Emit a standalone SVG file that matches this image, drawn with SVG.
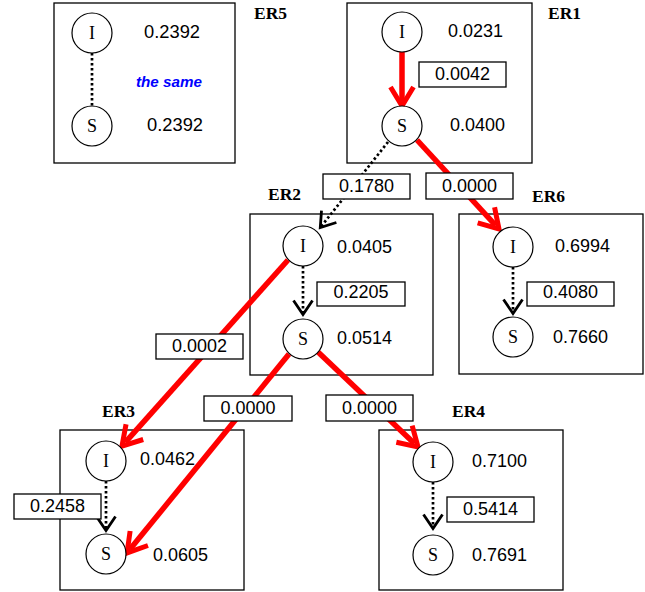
<svg xmlns="http://www.w3.org/2000/svg" width="645" height="592" viewBox="0 0 645 592">
<defs>
<style>
.box{fill:#fff;stroke:#000;stroke-width:1.3}
.er{font-family:"Liberation Serif","Times New Roman",serif;font-weight:bold;font-size:17px;fill:#000}
.nd{fill:#fff;stroke:#000;stroke-width:1.2}
.lt{font-family:"Liberation Serif","Times New Roman",serif;font-size:18px;text-anchor:middle;fill:#000}
.num{font-family:"Liberation Sans",Arial,sans-serif;font-size:17.5px;fill:#000}
.lbl{fill:#fff;stroke:#000;stroke-width:1.3}
.lnum{font-family:"Liberation Sans",Arial,sans-serif;font-size:17.5px;text-anchor:middle;fill:#000}
.red{fill:none;stroke:#f00;stroke-width:5.5;marker-end:url(#ar)}
.dot{fill:none;stroke:#000;stroke-width:2.7;stroke-dasharray:2.5 2.5}
.dota{marker-end:url(#ab)}
</style>
<marker id="ar" markerUnits="userSpaceOnUse" orient="auto" overflow="visible" refX="0" refY="0" markerWidth="1" markerHeight="1">
<path d="M-14,-11.5 L5,0 L-14,11.5" fill="none" stroke="#f00" stroke-width="5" stroke-linejoin="miter"/>
</marker>
<marker id="ab" markerUnits="userSpaceOnUse" orient="auto" overflow="visible" refX="0" refY="0" markerWidth="1" markerHeight="1">
<path d="M-12.5,-9.5 L1.5,0 L-12.5,9.5" fill="none" stroke="#000" stroke-width="2.8" stroke-linejoin="miter"/>
</marker>
</defs>

<g id="ER5">
<rect class="box" x="54" y="3" width="181" height="160"/>
<text class="er" x="254" y="19" textLength="33" lengthAdjust="spacingAndGlyphs">ER5</text>
<text class="num" x="144" y="37.5" textLength="56" lengthAdjust="spacingAndGlyphs">0.2392</text>
<text x="136" y="87" font-family="'Liberation Sans',Arial,sans-serif" font-size="15.5" font-weight="bold" font-style="italic" fill="#0000ff" textLength="66" lengthAdjust="spacingAndGlyphs">the same</text>
<text class="num" x="147" y="130.5" textLength="56" lengthAdjust="spacingAndGlyphs">0.2392</text>
</g>

<g id="ER1">
<rect class="box" x="347" y="3" width="185" height="160"/>
<text class="er" x="548" y="19" textLength="33" lengthAdjust="spacingAndGlyphs">ER1</text>
<text class="num" x="448" y="36.7" textLength="55" lengthAdjust="spacingAndGlyphs">0.0231</text>
<text class="num" x="450" y="130.7" textLength="55" lengthAdjust="spacingAndGlyphs">0.0400</text>
</g>

<g id="ER2">
<rect class="box" x="250" y="214" width="183" height="161"/>
<text class="er" x="268" y="200" textLength="33" lengthAdjust="spacingAndGlyphs">ER2</text>
<text class="num" x="337" y="253.3" textLength="55" lengthAdjust="spacingAndGlyphs">0.0405</text>
<text class="num" x="337" y="344" textLength="55" lengthAdjust="spacingAndGlyphs">0.0514</text>
</g>

<g id="ER6">
<rect class="box" x="459" y="214" width="184" height="160"/>
<text class="er" x="532" y="201.5" textLength="33" lengthAdjust="spacingAndGlyphs">ER6</text>
<text class="num" x="555" y="252.3" textLength="55" lengthAdjust="spacingAndGlyphs">0.6994</text>
<text class="num" x="553" y="343.3" textLength="55" lengthAdjust="spacingAndGlyphs">0.7660</text>
</g>

<g id="ER3">
<rect class="box" x="60" y="430" width="184" height="160"/>
<text class="er" x="102" y="417.3" textLength="33" lengthAdjust="spacingAndGlyphs">ER3</text>
<text class="num" x="140" y="465" textLength="55" lengthAdjust="spacingAndGlyphs">0.0462</text>
<text class="num" x="153" y="560.7" textLength="55" lengthAdjust="spacingAndGlyphs">0.0605</text>
</g>

<g id="ER4">
<rect class="box" x="379" y="430" width="184" height="160"/>
<text class="er" x="452" y="416.7" textLength="33" lengthAdjust="spacingAndGlyphs">ER4</text>
<text class="num" x="472" y="467.3" textLength="55" lengthAdjust="spacingAndGlyphs">0.7100</text>
<text class="num" x="472" y="560.7" textLength="55" lengthAdjust="spacingAndGlyphs">0.7691</text>
</g>

<g id="connectors">
<line class="dot" x1="92" y1="53" x2="92" y2="106"/>
<line class="red" x1="402" y1="52" x2="402" y2="101"/>
<line class="red" x1="417" y1="140" x2="495.6" y2="225.3"/>
<line class="dot dota" x1="388" y1="142" x2="321.2" y2="226.4"/>
<line class="dot dota" x1="303" y1="266" x2="303" y2="313"/>
<line class="dot dota" x1="513" y1="267" x2="513" y2="312"/>
<line class="red" x1="288" y1="260" x2="125.3" y2="442.3"/>
<line class="red" x1="289" y1="354" x2="130.2" y2="549.1"/>
<line class="red" x1="318" y1="352" x2="414.4" y2="443.6"/>
<line class="dot dota" x1="106" y1="481" x2="106" y2="529"/>
<line class="dot dota" x1="433" y1="482" x2="433" y2="527"/>

<rect class="lbl" x="419" y="62" width="87" height="25"/>
<text class="lnum" x="462.5" y="80" textLength="55" lengthAdjust="spacingAndGlyphs">0.0042</text>
<rect class="lbl" x="323" y="174" width="87" height="25"/>
<text class="lnum" x="366.5" y="191.7" textLength="55" lengthAdjust="spacingAndGlyphs">0.1780</text>
<rect class="lbl" x="426" y="173" width="87" height="26"/>
<text class="lnum" x="469.5" y="191.7" textLength="55" lengthAdjust="spacingAndGlyphs">0.0000</text>
<rect class="lbl" x="317" y="282" width="88" height="24"/>
<text class="lnum" x="361" y="298.3" textLength="55" lengthAdjust="spacingAndGlyphs">0.2205</text>
<rect class="lbl" x="527" y="282" width="87" height="24"/>
<text class="lnum" x="570.5" y="298.3" textLength="55" lengthAdjust="spacingAndGlyphs">0.4080</text>
<rect class="lbl" x="156" y="334" width="87" height="25"/>
<text class="lnum" x="199.5" y="351.7" textLength="55" lengthAdjust="spacingAndGlyphs">0.0002</text>
<rect class="lbl" x="204" y="396" width="88" height="25"/>
<text class="lnum" x="248" y="414" textLength="55" lengthAdjust="spacingAndGlyphs">0.0000</text>
<rect class="lbl" x="326" y="395" width="87" height="26"/>
<text class="lnum" x="369.5" y="414" textLength="55" lengthAdjust="spacingAndGlyphs">0.0000</text>
<rect class="lbl" x="14" y="494" width="87" height="25"/>
<text class="lnum" x="57.5" y="511.7" textLength="55" lengthAdjust="spacingAndGlyphs">0.2458</text>
<rect class="lbl" x="447" y="497" width="87" height="25"/>
<text class="lnum" x="490.5" y="515" textLength="55" lengthAdjust="spacingAndGlyphs">0.5414</text>
</g>

<g id="ER5-I"><circle class="nd" cx="92" cy="33" r="20"/><text class="lt" x="92" y="39">I</text></g>
<g id="ER5-S"><circle class="nd" cx="92" cy="126" r="20"/><text class="lt" x="92" y="132">S</text></g>
<g id="ER1-I"><circle class="nd" cx="402" cy="32" r="20"/><text class="lt" x="402" y="38">I</text></g>
<g id="ER1-S"><circle class="nd" cx="402" cy="126" r="20"/><text class="lt" x="402" y="132">S</text></g>
<g id="ER2-I"><circle class="nd" cx="303" cy="246" r="20"/><text class="lt" x="303" y="252">I</text></g>
<g id="ER2-S"><circle class="nd" cx="303" cy="339" r="20"/><text class="lt" x="303" y="345">S</text></g>
<g id="ER6-I"><circle class="nd" cx="513" cy="247" r="20"/><text class="lt" x="513" y="253">I</text></g>
<g id="ER6-S"><circle class="nd" cx="513" cy="337" r="20"/><text class="lt" x="513" y="343">S</text></g>
<g id="ER3-I"><circle class="nd" cx="106" cy="461" r="20"/><text class="lt" x="106" y="467">I</text></g>
<g id="ER3-S"><circle class="nd" cx="106" cy="554" r="20"/><text class="lt" x="106" y="560">S</text></g>
<g id="ER4-I"><circle class="nd" cx="433" cy="462" r="20"/><text class="lt" x="433" y="468">I</text></g>
<g id="ER4-S"><circle class="nd" cx="433" cy="555" r="20"/><text class="lt" x="433" y="561">S</text></g>
</svg>
